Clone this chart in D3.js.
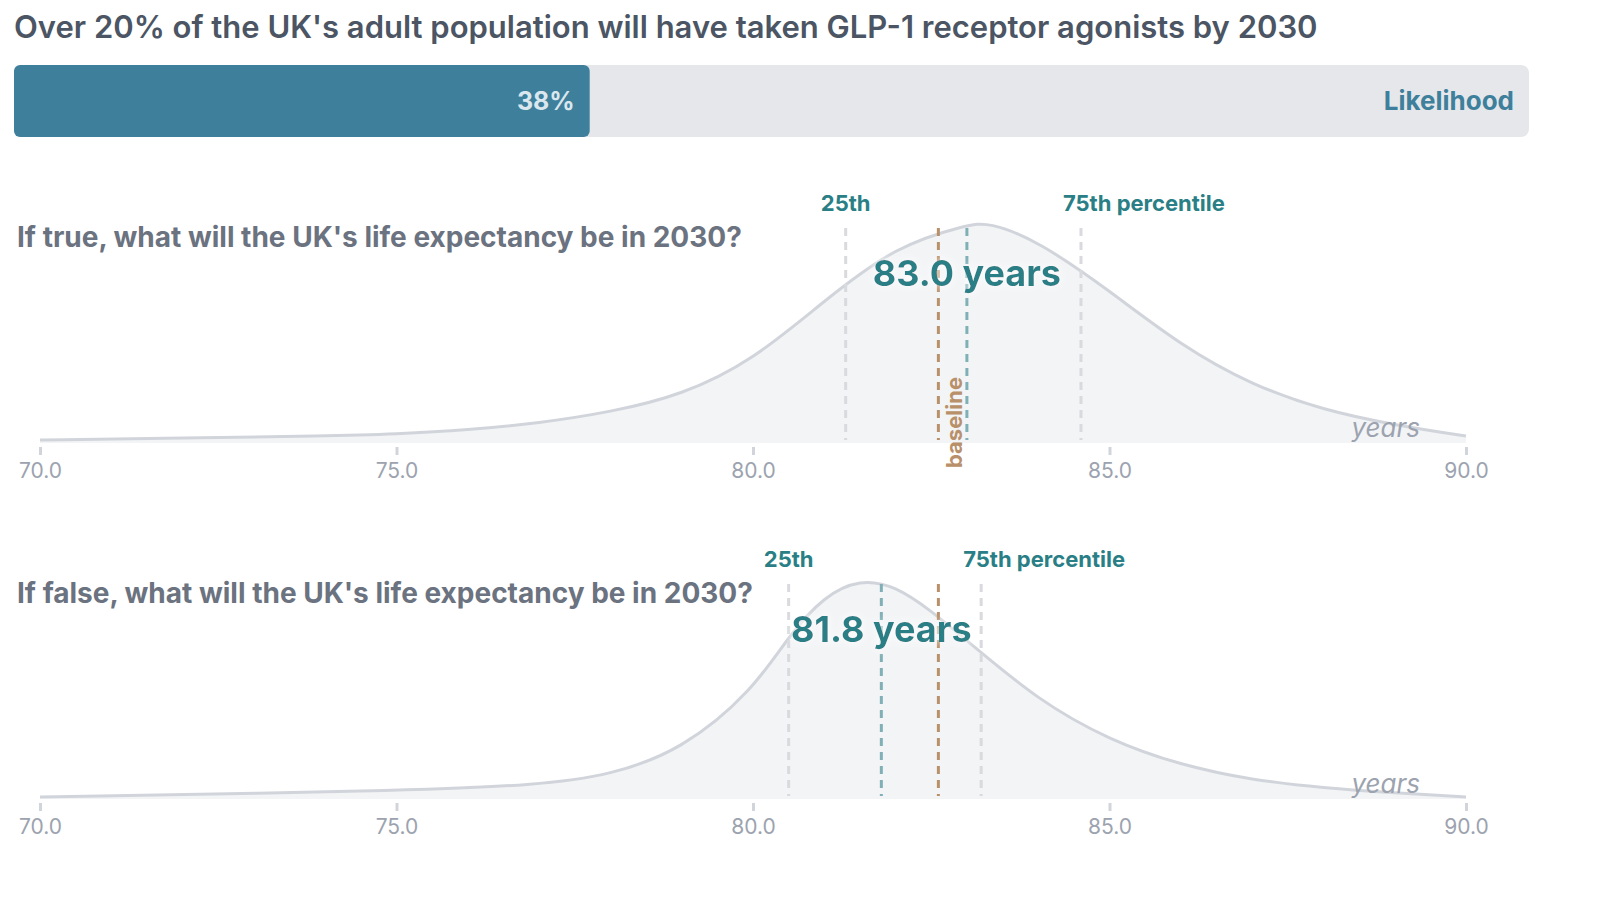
<!DOCTYPE html>
<html><head><meta charset="utf-8">
<script src="https://cdn.jsdelivr.net/npm/d3@7"></script>
<style>body{margin:0;background:#fff;font-family:Inter,"Noto Sans",sans-serif}</style>
</head><body><svg id="chart" width="1600" height="910"></svg>
<script>
"use strict";
const title = "Over 20% of the UK's adult population will have taken GLP-1 receptor agonists by 2030";
const likelihood = 0.38;
const axisTicks = [70, 75, 80, 85, 90];
const questions = ["If true, what will the UK's life expectancy be in 2030?", "If false, what will the UK's life expectancy be in 2030?"];
// density (relative units)
const xsTrue = [70, 72, 74, 75, 76, 77, 78, 79, 80, 81, 82, 83, 83.3, 84, 85, 86, 87, 88, 89, 90];
const densTrue = [3, 5, 7, 9, 13, 20, 31, 48, 83, 143, 198, 219, 222, 203, 153, 98, 58, 33, 18, 7];
const xsFalse = [70, 75, 77, 78, 79, 80, 80.5, 81, 81.5, 82, 82.5, 83, 84, 85, 86, 87, 88, 89, 90];
const densFalse = [2, 8, 14, 24, 49, 109, 164, 204, 221, 214, 189, 159, 99, 59, 34, 19, 11, 6, 2];
const p25 = [81.3, 80.5];
const medians = [83.0, 81.8];
const p75 = [84.6, 83.2];
const baselineVal = 82.6;

const svg = d3.select("#chart");
const teal = "#2a7f86";

svg.append("text").attr("x", 14).attr("y", 38).attr("font-size", 31).attr("font-weight", 600)
  .attr("fill", "#4b5563").text(title);

const bx = d3.scaleLinear().domain([0, 1]).range([14, 1529]);
svg.append("rect").attr("x", bx(0)).attr("y", 65).attr("width", bx(1) - bx(0)).attr("height", 72).attr("rx", 8).attr("fill", "#e5e7eb");
svg.append("rect").attr("x", bx(0)).attr("y", 65).attr("width", bx(likelihood) - bx(0)).attr("height", 72).attr("rx", 6).attr("fill", "#3e7f9b");
svg.append("text").attr("x", bx(likelihood) - 15).attr("y", 110).attr("text-anchor", "end").attr("font-size", 25).attr("font-weight", 700).attr("fill", "#dbe7ee").text(Math.round(likelihood * 100) + "%");
svg.append("text").attr("x", bx(1) - 15).attr("y", 110).attr("text-anchor", "end").attr("font-size", 26).attr("font-weight", 700).attr("fill", "#3e7f9b").text("Likelihood");

const defs = svg.append("defs");
const f = defs.append("filter").attr("id", "halo").attr("x", "-20%").attr("y", "-40%").attr("width", "140%").attr("height", "180%");
f.append("feDropShadow").attr("dx", 0).attr("dy", 0).attr("stdDeviation", 4).attr("flood-color", "#fff").attr("flood-opacity", 1);

const x = d3.scaleLinear().domain([70, 90]).range([40, 1466]);
const panels = [
  {xs: xsTrue, d: densTrue, base: 443},
  {xs: xsFalse, d: densFalse, base: 799}
];
panels.forEach((p, i) => {
  const y = d3.scaleLinear().domain([0, 222]).range([p.base, p.base - 221]);
  const pts = p.xs.map((v, k) => [v, p.d[k]]);
  const g = svg.append("g");
  g.append("path").datum(pts).attr("fill", "#f3f4f6")
    .attr("d", d3.area().curve(d3.curveBasis).x(d => x(d[0])).y0(p.base).y1(d => y(d[1])));
  g.append("path").datum(pts).attr("fill", "none").attr("stroke", "#d1d5db").attr("stroke-width", 3)
    .attr("d", d3.line().curve(d3.curveBasis).x(d => x(d[0])).y(d => y(d[1])));
  g.append("text").attr("x", 17).attr("y", p.base - 196).attr("font-size", 28).attr("font-weight", 700).attr("fill", "#6b7280").text(questions[i]);
  const vline = (v, col) => g.append("line").attr("x1", x(v)).attr("x2", x(v)).attr("y1", p.base - 215).attr("y2", p.base - 3)
    .attr("stroke", col).attr("stroke-width", 3).attr("stroke-dasharray", "8,6");
  vline(p25[i], "#d9dadd"); vline(p75[i], "#d9dadd");
  vline(baselineVal, "#b8906a"); vline(medians[i], "#7fb0b6");
  g.append("text").attr("x", x(p25[i])).attr("y", p.base - 232).attr("text-anchor", "middle").attr("font-size", 22).attr("font-weight", 700).attr("fill", teal).text("25th");
  g.append("text").attr("x", x(p75[i]) - 18).attr("y", p.base - 232).attr("font-size", 22).attr("font-weight", 700).attr("fill", teal).text("75th percentile");
  g.append("text").attr("x", x(medians[i])).attr("y", p.base - 157).attr("text-anchor", "middle").attr("font-size", 36).attr("font-weight", 700)
    .attr("fill", teal).attr("filter", "url(#halo)").text(medians[i].toFixed(1) + " years");
  if (i === 0) {
    g.append("text").attr("transform", `translate(${x(baselineVal) + 24},${p.base + 25}) rotate(-90)`)
      .attr("font-size", 22).attr("font-weight", 700).attr("fill", "#b8906a").text("baseline");
  }
  g.append("text").attr("x", 1420).attr("y", p.base - 6).attr("text-anchor", "end").attr("font-size", 26).attr("font-style", "italic").attr("fill", "#9ca3af").text("years");
  const ax = g.append("g").attr("transform", `translate(0,${p.base + 4})`)
    .call(d3.axisBottom(x).tickValues(axisTicks).tickFormat(d3.format(".1f")).tickSize(8).tickPadding(8));
  ax.select(".domain").remove();
  ax.selectAll(".tick line").attr("stroke", "#d1d5db").attr("stroke-width", 3);
  ax.selectAll(".tick text").attr("font-size", 21).attr("fill", "#9ca3af").attr("font-family", "Inter");
});
</script></body></html>
